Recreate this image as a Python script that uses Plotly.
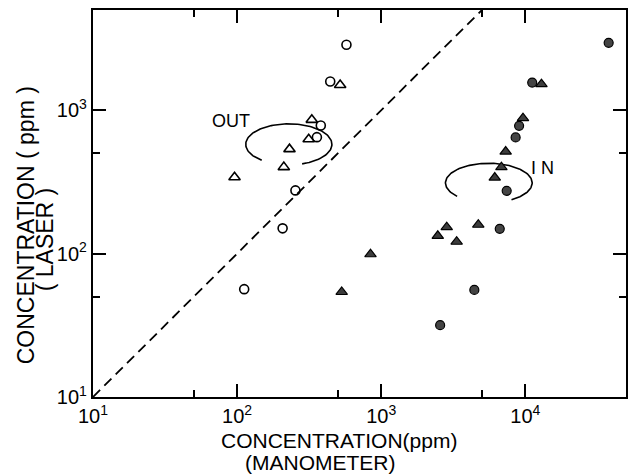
import numpy as np
import plotly.graph_objects as go

# ---- data ----
out_circle_x = [574, 443, 381, 358, 254, 207, 112]
out_circle_y = [2860, 1585, 782, 649, 276, 150, 56.5]
out_tri_x = [519, 330, 314, 231, 211, 96]
out_tri_y = [1500, 857, 628, 535, 401, 341]
in_tri_x = [12950, 9640, 7310, 6830, 6140, 2850, 2470, 3340, 4720, 843, 532]
in_tri_y = [1521, 881, 515, 401, 339, 153, 133, 121, 159, 99, 54]
in_circle_x = [37900, 11170, 9060, 8570, 7430, 6650, 4430, 2565]
in_circle_y = [2950, 1560, 778, 646, 274, 149, 55.8, 31.7]

x_range = [10, 50000]
y_range = [10, 5000]
major_ticks = [10, 100, 1000, 10000]
major_labels = ["10<sup>1</sup>", "10<sup>2</sup>", "10<sup>3</sup>", "10<sup>4</sup>"]
y_major_ticks = [10, 100, 1000]
y_major_labels = ["10<sup>1</sup>", "10<sup>2</sup>", "10<sup>3</sup>"]
minor_ticks = [50, 500, 5000]

FONT = "Liberation Sans, Arial, sans-serif"


def arc(cx, cy, rx, ry, a0, a1, n=120):
    t = np.radians(np.linspace(a0, a1, n))
    lx = cx + rx * np.cos(t)
    ly = cy - ry * np.sin(t)
    return 10 ** lx, 10 ** ly


fig = go.Figure()

# identity line
fig.add_trace(go.Scatter(x=[x_range[0], y_range[1]], y=[y_range[0], y_range[1]],
                         mode="lines", line=dict(color="black", width=1.8, dash="10px,6px"),
                         hoverinfo="skip", showlegend=False))

# ellipses around groups
ox, oy = arc(2.359, 2.762, 0.299, 0.143, 129, 432)
fig.add_trace(go.Scatter(x=ox, y=oy, mode="lines", line=dict(color="black", width=1.6),
                         hoverinfo="skip", showlegend=False))
ix, iy = arc(3.747, 2.493, 0.301, 0.137, 137, 418.5)
fig.add_trace(go.Scatter(x=ix, y=iy, mode="lines", line=dict(color="black", width=1.6),
                         hoverinfo="skip", showlegend=False))

fig.add_trace(go.Scatter(x=out_circle_x, y=out_circle_y, mode="markers", name="OUT circle",
                         marker=dict(symbol="circle-open", size=9, color="black", line=dict(width=1.6)),
                         showlegend=False))
fig.add_trace(go.Scatter(x=out_tri_x, y=out_tri_y, mode="markers", name="OUT triangle",
                         marker=dict(symbol="triangle-up-open", size=10, color="black", line=dict(width=1.6)),
                         showlegend=False))
fig.add_trace(go.Scatter(x=in_tri_x, y=in_tri_y, mode="markers", name="IN triangle",
                         marker=dict(symbol="triangle-up", size=10, color="#3c3c3c",
                                     line=dict(width=1.2, color="black")),
                         showlegend=False))
fig.add_trace(go.Scatter(x=in_circle_x, y=in_circle_y, mode="markers", name="IN circle",
                         marker=dict(symbol="circle", size=9, color="#444444",
                                     line=dict(width=1.2, color="black")),
                         showlegend=False))

axis_common = dict(
    type="log", showgrid=False, zeroline=False,
    showline=True, linecolor="black", linewidth=2.2, mirror="ticks",
    ticks="inside", ticklen=13, tickwidth=1.6, tickcolor="black",
    tickfont=dict(family=FONT, size=20, color="black"),
    minor=dict(tickmode="array", tickvals=minor_ticks, ticks="inside", ticklen=7,
               tickwidth=1.6, tickcolor="black", showgrid=False),
)

fig.update_xaxes(range=[np.log10(x_range[0]), np.log10(x_range[1])],
                 tickmode="array", tickvals=major_ticks, ticktext=major_labels, **axis_common)
fig.update_yaxes(range=[np.log10(y_range[0]), np.log10(y_range[1])],
                 tickmode="array", tickvals=y_major_ticks, ticktext=y_major_labels, **axis_common)

ann_font = dict(family=FONT, size=21, color="black")
annotations = [
    dict(text="OUT", x=1.955, y=2.922, xref="x", yref="y", showarrow=False,
         font=dict(family=FONT, size=18, color="black")),
    dict(text="I N", x=4.117, y=2.596, xref="x", yref="y", showarrow=False,
         font=dict(family=FONT, size=18, color="black")),
    dict(text="CONCENTRATION(ppm)", x=0.4617, y=-0.112, xref="paper", yref="paper",
         showarrow=False, font=ann_font, xanchor="center", yanchor="middle", borderpad=0),
    dict(text="(MANOMETER)", x=0.4271, y=-0.168, xref="paper", yref="paper",
         showarrow=False, font=ann_font, xanchor="center", yanchor="middle", borderpad=0),
    dict(text="CONCENTRATION ( ppm )", x=-0.1252, y=0.4444, xref="paper", yref="paper",
         showarrow=False, font=dict(family=FONT, size=23, color="black"),
         textangle=-90, xanchor="center", yanchor="middle", borderpad=0),
    dict(text="( LASER )", x=-0.0897, y=0.408, xref="paper", yref="paper",
         showarrow=False, font=dict(family=FONT, size=23, color="black"),
         textangle=-90, xanchor="center", yanchor="middle", borderpad=0),
]

fig.update_layout(
    width=634, height=474,
    margin=dict(l=93, r=6, t=10, b=77),
    paper_bgcolor="white", plot_bgcolor="white",
    annotations=annotations,
    showlegend=False,
)

fig.write_html("out.html", config={"displayModeBar": False},
               post_script="document.body.style.margin='0px';document.body.style.padding='0px';")
